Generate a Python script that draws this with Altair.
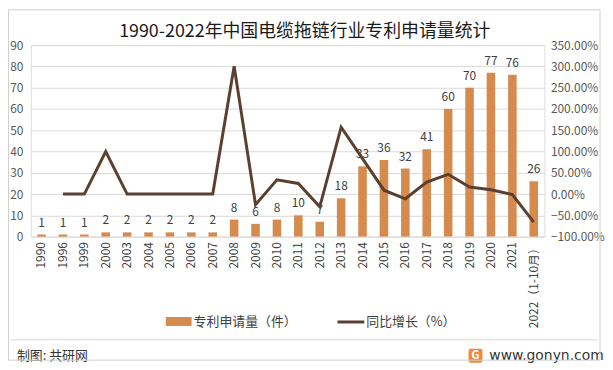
import altair as alt
import pandas as pd

years = ["1990", "1996", "1999", "2000", "2003", "2004", "2005", "2006", "2007",
         "2008", "2009", "2010", "2011", "2012", "2013", "2014", "2015", "2016",
         "2017", "2018", "2019", "2020", "2021", "2022（1-10月）"]
counts = [1, 1, 1, 2, 2, 2, 2, 2, 2, 8, 6, 8, 10, 7, 18, 33, 36, 32, 41, 60, 70, 77, 76, 26]
growth = [None, 0.0, 0.0, 1.0, 0.0, 0.0, 0.0, 0.0, 0.0, 3.0, -0.25, 0.333, 0.25, -0.30,
          1.571, 0.833, 0.091, -0.111, 0.281, 0.463, 0.167, 0.10, -0.013, -0.658]

df = pd.DataFrame({"year": years, "count": counts, "growth": growth})

FONT = "Noto Sans CJK SC"
BAR = "#D58B4E"
LINE = "#5B4030"
W, H = 517.5, 193

xenc = alt.X("year:N", sort=years,
             scale=alt.Scale(paddingInner=0.6, paddingOuter=0.3),
             axis=alt.Axis(title=None, labelAngle=270, ticks=False, domain=False,
                           labelColor="#404040", labelFontSize=12, labelFont=FONT,
                           labelPadding=5, labelLimit=200))

yleft = alt.Y("count:Q", scale=alt.Scale(domain=[0, 90]),
              axis=alt.Axis(title=None, values=list(range(0, 91, 10)), grid=True,
                            gridColor="#D9D9D9", domain=False, ticks=False,
                            labelColor="#595959", labelFontSize=12, labelFont=FONT,
                            labelPadding=8))

base = alt.Chart(df)

bars = base.mark_bar(color=BAR).encode(x=xenc, y=yleft)

labels = base.mark_text(dy=-12, fontSize=12, font=FONT, color="#404040").encode(
    x=xenc, y=yleft, text="count:Q",
)

left = alt.layer(bars, labels)

line = base.transform_filter("datum.growth != null").mark_line(
    color=LINE, strokeWidth=3).encode(
    x=xenc,
    y=alt.Y("growth:Q", scale=alt.Scale(domain=[-1, 3.5]),
            axis=alt.Axis(title=None, orient="right", format=".2%",
                          values=[-1 + 0.5 * i for i in range(10)], grid=False,
                          domain=False, ticks=False, labelColor="#595959",
                          labelFontSize=12, labelFont=FONT, labelPadding=6)),
)

# decorative title / legend / footer (pixel positions relative to the plot origin)
one = pd.DataFrame({"a": [0]})
title = alt.Chart(one).mark_text(align="center", baseline="middle", fontSize=18,
                                  font=FONT, color="#1a1a1a").encode(
    x=alt.value(276), y=alt.value(-13),
    text=alt.value("1990-2022年中国电缆拖链行业专利申请量统计"))
leg_bar = alt.Chart(one).mark_rect(color=BAR).encode(
    x=alt.value(136), x2=alt.value(162), y=alt.value(274), y2=alt.value(283))
leg_bar_t = alt.Chart(one).mark_text(align="left", baseline="middle", fontSize=13,
                                      font=FONT, color="#404040").encode(
    x=alt.value(164), y=alt.value(279), text=alt.value("专利申请量（件）"))
leg_line = alt.Chart(one).mark_rule(color=LINE, strokeWidth=3).encode(
    x=alt.value(309), x2=alt.value(336), y=alt.value(279))
leg_line_t = alt.Chart(one).mark_text(align="left", baseline="middle", fontSize=13,
                                       font=FONT, color="#404040").encode(
    x=alt.value(338), y=alt.value(279), text=alt.value("同比增长（%）"))
sep = alt.Chart(one).mark_rule(color="#D9D9D9", strokeWidth=1).encode(
    x=alt.value(-20), x2=alt.value(570), y=alt.value(297))
foot_l = alt.Chart(one).mark_text(align="left", baseline="middle", fontSize=13,
                                   font=FONT, color="#333333").encode(
    x=alt.value(-14), y=alt.value(313), text=alt.value("制图: 共研网"))
logo = alt.Chart(one).mark_rect(color="#F08A3C", cornerRadius=2).encode(
    x=alt.value(441), x2=alt.value(455), y=alt.value(306), y2=alt.value(320))
logo_t = alt.Chart(one).mark_text(align="center", baseline="middle", fontSize=11,
                                   font=FONT, fontWeight="bold", color="white").encode(
    x=alt.value(448), y=alt.value(313), text=alt.value("G"))
foot_r = alt.Chart(one).mark_text(align="left", baseline="middle", fontSize=14,
                                   font="DejaVu Sans", color="#333333").encode(
    x=alt.value(462), y=alt.value(313), text=alt.value("www.gonyn.com"))
border = alt.Chart(one).mark_rect(fill=None, stroke="#D0D0D0", strokeWidth=1).encode(
    x=alt.value(-22.5), x2=alt.value(573.5), y=alt.value(-35.5), y2=alt.value(317.5))

deco = alt.layer(title, leg_bar, leg_bar_t, leg_line, leg_line_t, sep, foot_l, logo,
                 logo_t, foot_r, border)

chart = alt.layer(left, line, deco).resolve_scale(y="independent").properties(
    width=W, height=H,
    padding=0,
).configure_view(stroke=None).configure(background="white")

chart.save("out.html", embed_options={"renderer": "svg", "actions": False})
